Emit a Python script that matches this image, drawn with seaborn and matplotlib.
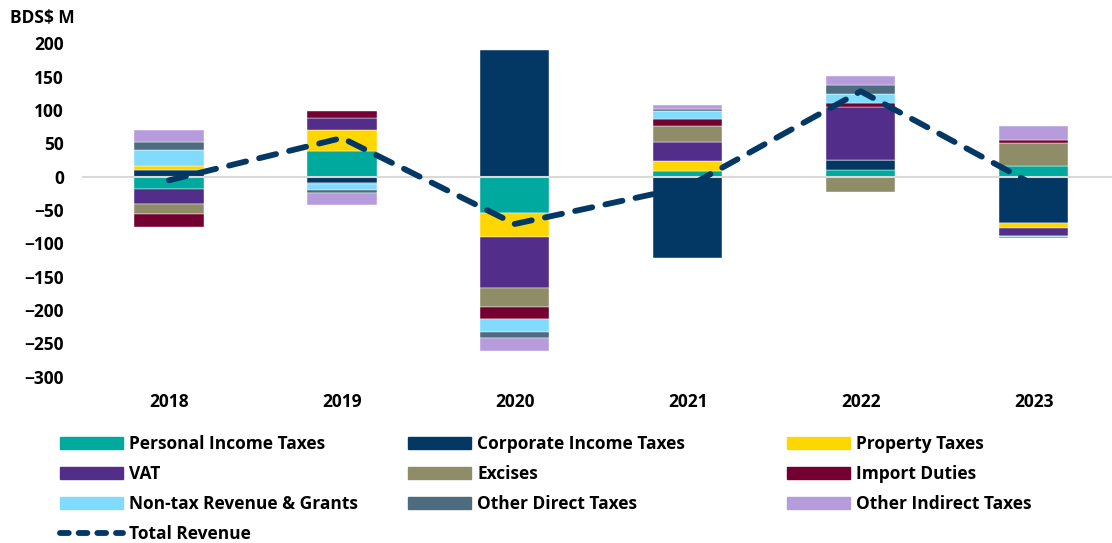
import matplotlib
matplotlib.use("Agg")
import matplotlib.pyplot as plt
import numpy as np
import pandas as pd
import seaborn as sns
from matplotlib.lines import Line2D

# Contributions to revenue change, BDS$ M
years = ["2018", "2019", "2020", "2021", "2022", "2023"]
personal_income = [-18.5, 39, -55, 8.5, 10, 16]
corporate_income = [10, -9, 190, -122.5, 15, -70]
property_taxes = [6.5, 31, -35, 15, 0, -6.5]
vat = [-22.5, 17.5, -76.5, 29, 79, -12]
excises = [-14.5, -2.5, -29.5, 23.5, -23.5, 35]
import_duties = [-20, 11.5, -17.5, 10.5, 7, 4]
non_tax = [23.5, -8.5, -19, 12, 13.5, -2]
other_direct = [11.5, -4, -10, 3, 13, -1]
other_indirect = [18.5, -18, -18.5, 6, 14, 21]
total_revenue = [-5.5, 58, -71, -15, 128, -12]

components = [
    ("Personal Income Taxes", personal_income, "#00A99D"),
    ("Corporate Income Taxes", corporate_income, "#043864"),
    ("Property Taxes", property_taxes, "#FFD700"),
    ("VAT", vat, "#532D8A"),
    ("Excises", excises, "#8F8D67"),
    ("Import Duties", import_duties, "#730030"),
    ("Non-tax Revenue & Grants", non_tax, "#80DBFC"),
    ("Other Direct Taxes", other_direct, "#4D6C80"),
    ("Other Indirect Taxes", other_indirect, "#B79CDC"),
]

sns.set_style("white")
plt.rcParams["font.family"] = ["Open Sans", "DejaVu Sans"]
plt.rcParams["font.weight"] = "bold"
plt.rcParams["text.color"] = "black"
plt.rcParams["xtick.color"] = "black"
plt.rcParams["ytick.color"] = "black"
FS = 12.5

fig = plt.figure(figsize=(11.12, 5.43), dpi=100)
ax = fig.add_axes([82 / 1112, 0.3063, 1 - 82 / 1112, 0.9203 - 0.3063])

pos_base = np.zeros(len(years))
neg_base = np.zeros(len(years))
handles = {}
for name, vals, color in components:
    vals = np.array(vals, dtype=float)
    bottoms = np.where(vals >= 0, pos_base, neg_base)
    df = pd.DataFrame({"year": years, "value": vals})
    sns.barplot(data=df, x="year", y="value", bottom=bottoms, color=color,
                saturation=1, width=0.4, ax=ax, errorbar=None,
                edgecolor="white", linewidth=0.3, zorder=2)
    pos_base = pos_base + np.where(vals >= 0, vals, 0)
    neg_base = neg_base + np.where(vals < 0, vals, 0)
    handles[name] = plt.Rectangle((0, 0), 1, 1, color=color)

ax.axhline(0, color="#D9D9D9", lw=1.5, zorder=3)

line_df = pd.DataFrame({"pos": range(len(years)), "total": total_revenue})
sns.lineplot(data=line_df, x="pos", y="total", ax=ax, color="#043864",
             lw=4.2, zorder=4)
tot_line = ax.lines[-1]
tot_line.set_linestyle((0, (3.0, 2.3)))
tot_line.set_dash_capstyle("round")
handles["Total Revenue"] = Line2D([], [], color="#043864", lw=4.2,
                                  linestyle=(0, (1.5, 1.7)),
                                  dash_capstyle="round")

ax.set_xlim(-0.503, 5.453)
ax.set_ylim(-300, 200)
ax.set_yticks(range(-300, 201, 50))
ax.set_xlabel("")
ax.set_ylabel("")
ax.tick_params(axis="both", length=0, labelsize=FS)
ax.tick_params(axis="y", pad=13)
ax.tick_params(axis="x", pad=12)
for lbl in ax.get_xticklabels() + ax.get_yticklabels():
    lbl.set_fontweight("bold")
sns.despine(ax=ax, left=True, bottom=True)

fig.text(10 / 1112, 1 - 18 / 543, "BDS$ M", fontsize=FS, fontweight="bold",
         va="center", ha="left")

# legend laid out as three columns, like the original
columns = [
    (60, ["Personal Income Taxes", "VAT", "Non-tax Revenue & Grants", "Total Revenue"]),
    (408, ["Corporate Income Taxes", "Excises", "Other Direct Taxes"]),
    (787, ["Property Taxes", "Import Duties", "Other Indirect Taxes"]),
]
for x_px, names in columns:
    leg = fig.legend([handles[k] for k in names], names, ncol=1,
                     loc="upper left", bbox_to_anchor=(x_px / 1112, 1 - 435 / 543),
                     frameon=False, fontsize=FS, handlelength=3.6,
                     handleheight=0.65, labelspacing=0.69,
                     handletextpad=0.4, borderaxespad=0, borderpad=0)
    for t in leg.get_texts():
        t.set_fontweight("bold")

fig.savefig("out.png", dpi=100)
